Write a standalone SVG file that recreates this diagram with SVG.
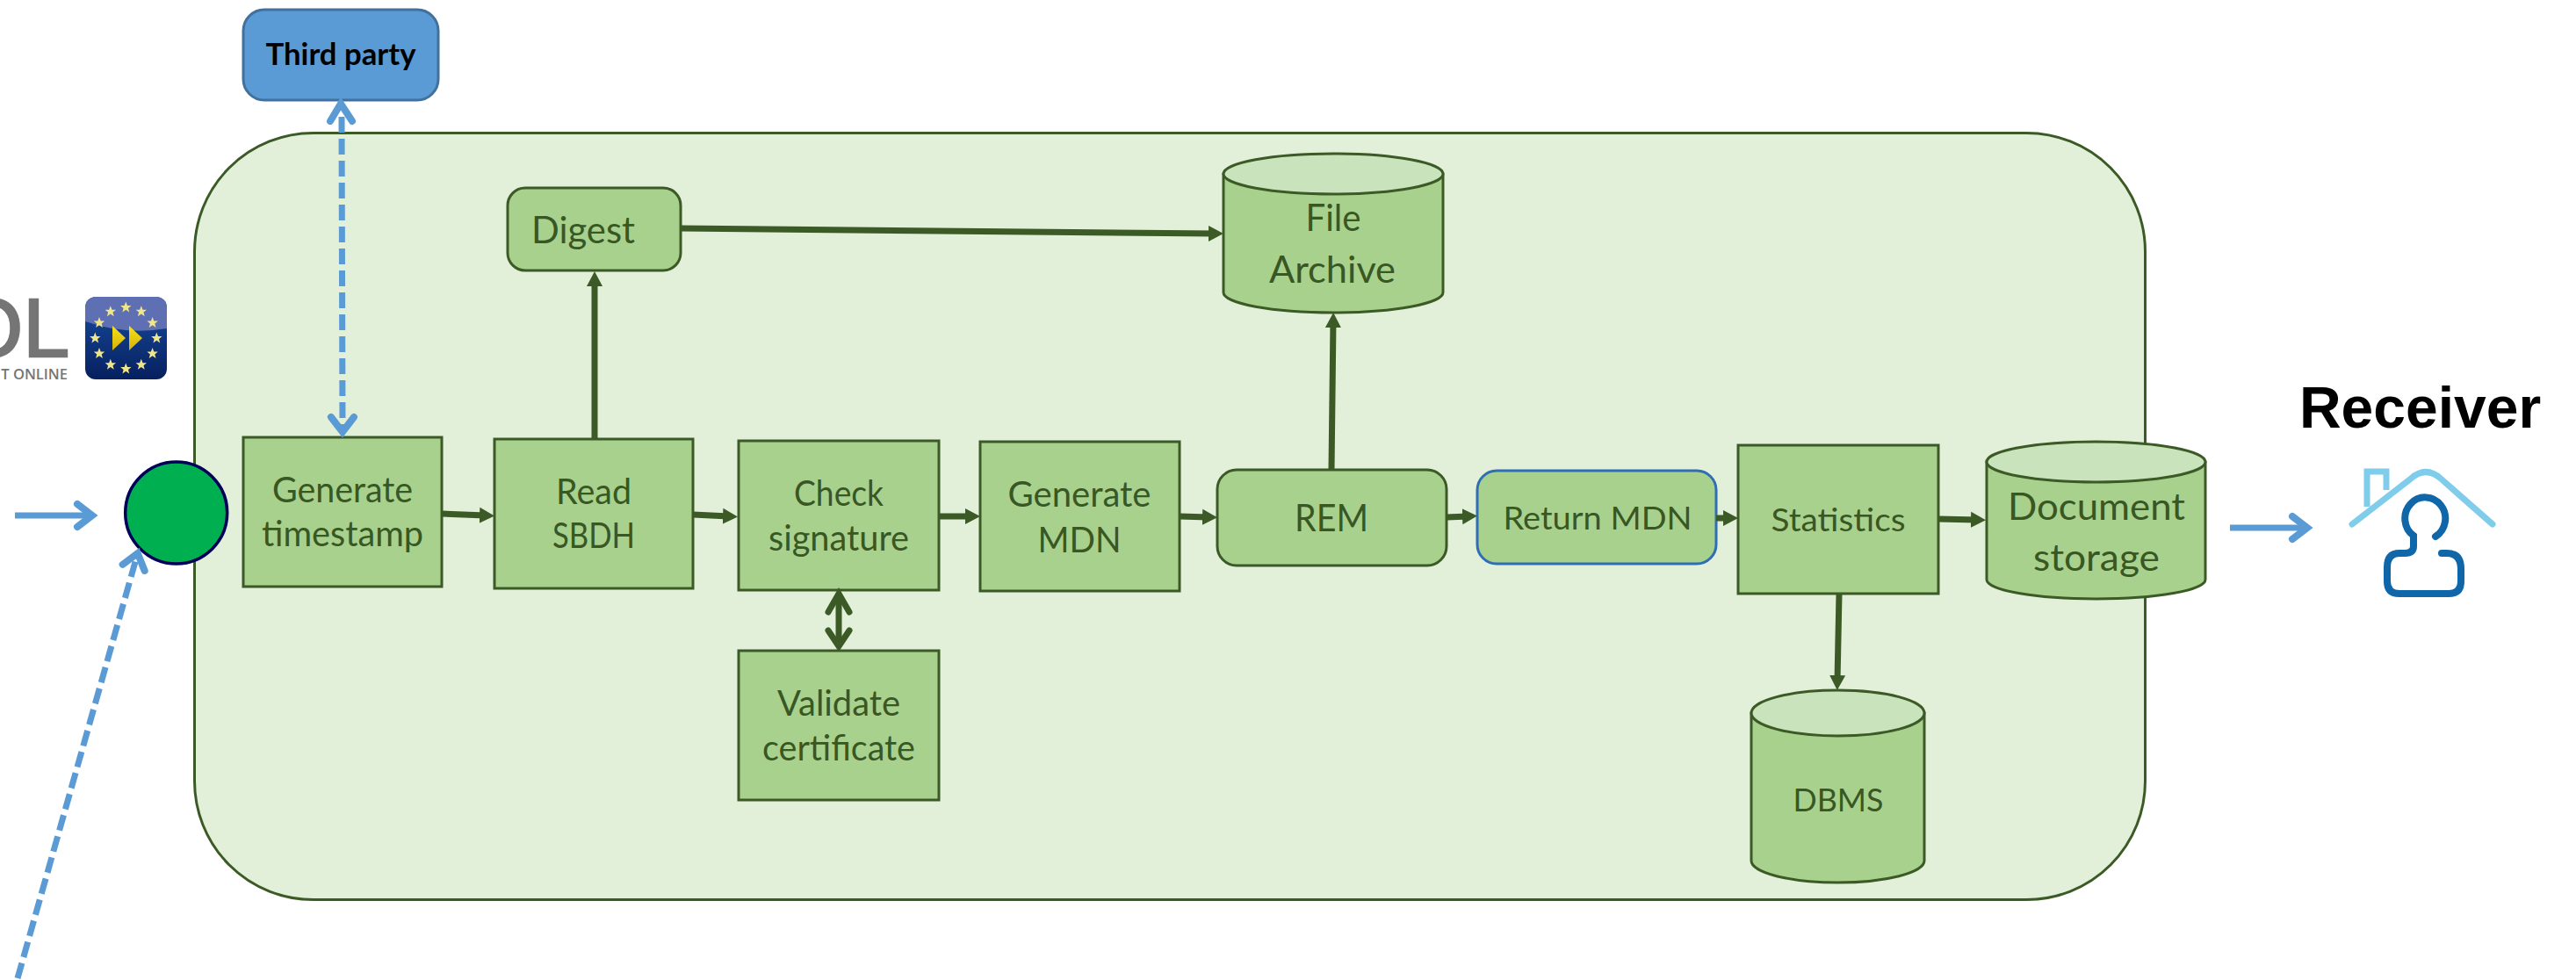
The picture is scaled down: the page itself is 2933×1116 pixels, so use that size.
<svg xmlns="http://www.w3.org/2000/svg" width="2933" height="1116" viewBox="0 0 2933 1116">
<style>
text{font-family:Lato,"Liberation Sans",sans-serif;text-anchor:middle}
.t{font-size:40px;fill:#385723}
.l{font-size:43px;fill:#385723}
.s{font-size:37px;fill:#385723}
.b{fill:#a9d18e;stroke:#3b5a26;stroke-width:3}
.top{fill:#c9e3bd;stroke:#3b5a26;stroke-width:3}
.a{stroke:#3b5a26;stroke-width:7;fill:none;marker-end:url(#tri)}
.u{stroke:#5b9bd5;stroke-width:7;fill:none;marker-end:url(#open)}
.d{stroke-dasharray:18 7}
</style>
<defs>
<marker id="tri" markerUnits="userSpaceOnUse" markerWidth="30" markerHeight="30" refX="7" refY="15" orient="auto"><path d="M0,6 L17,15 L0,24 z" fill="#3b5a26"/></marker>
<marker id="open" markerUnits="userSpaceOnUse" markerWidth="40" markerHeight="40" refX="24" refY="20" orient="auto"><path d="M8,7 L25,20 L8,33" fill="none" stroke="#5b9bd5" stroke-width="8" stroke-linecap="round"/></marker>
<linearGradient id="blue" x1="0" y1="0" x2="0" y2="1"><stop offset="0" stop-color="#1a4da0"/><stop offset="1" stop-color="#06205f"/></linearGradient>
<linearGradient id="yel" x1="0" y1="0" x2="0" y2="1"><stop offset="0" stop-color="#f7e21a"/><stop offset="1" stop-color="#d4b20a"/></linearGradient>
<path id="star" d="M0,-6.500 L1.700,-2 L6.200,-2 L2.700,0.900 L3.900,5.500 L0,2.800 L-3.900,5.500 L-2.700,0.900 L-6.200,-2 L-1.700,-2 z" fill="#efe58c"/>
</defs>

<g id="logo">
<text x="79" y="406" stroke="#757575" stroke-width="2.500" style="font-family:'Liberation Sans',sans-serif;font-size:95px;text-anchor:end" fill="#757575">OL</text>
<text x="77" y="432" style="font-family:'Open Sans',sans-serif;font-size:16.500px;text-anchor:end;font-weight:600" fill="#757575">T ONLINE</text>
<rect x="97" y="338" width="93" height="94" rx="12" fill="url(#blue)"/>
<path d="M97,350 a12,12 0 0 1 12,-12 h69 a12,12 0 0 1 12,12 v24 Q143,382 97,366 z" fill="#5e70b3"/>
<path d="M128,371 L143,385 L128,399 z M147,371 L162,385 L147,399 z" fill="url(#yel)"/>
<use href="#star" x="143.300" y="350"/><use href="#star" x="160.800" y="354.700"/><use href="#star" x="173.600" y="367.500"/><use href="#star" x="178.300" y="385"/><use href="#star" x="173.600" y="402.500"/><use href="#star" x="160.800" y="415.300"/><use href="#star" x="143.300" y="420"/><use href="#star" x="125.800" y="415.300"/><use href="#star" x="113" y="402.500"/><use href="#star" x="108.300" y="385"/><use href="#star" x="113" y="367.500"/><use href="#star" x="125.800" y="354.700"/>
</g>

<g id="container"><rect x="221.500" y="151.500" width="2221" height="873" rx="135" fill="#e2efd9" stroke="#3b5a26" stroke-width="3"/></g>

<g id="start"><circle cx="200.700" cy="584" r="58" fill="#00b050" stroke="#00005a" stroke-width="3.500"/></g>

<g id="third-party"><rect x="277" y="11" width="222" height="103" rx="24" fill="#5b9bd5" stroke="#41719c" stroke-width="3"/><text x="388" y="74" textLength="171" lengthAdjust="spacingAndGlyphs" style="font-size:34px;font-weight:700" fill="#000">Third party</text></g>

<g id="generate-timestamp"><rect class="b" x="277" y="498" width="226" height="170"/><text class="t" x="390" y="572" textLength="160" lengthAdjust="spacingAndGlyphs">Generate</text><text class="t" x="390" y="622" textLength="184" lengthAdjust="spacingAndGlyphs">timestamp</text></g>
<g id="read-sbdh"><rect class="b" x="563" y="500" width="226" height="170"/><text class="t" x="676" y="574" textLength="86" lengthAdjust="spacingAndGlyphs">Read</text><text class="t" x="676" y="624" textLength="94" lengthAdjust="spacingAndGlyphs">SBDH</text></g>
<g id="digest"><rect class="b" x="578" y="214" width="197" height="94" rx="20"/><text class="l" x="664" y="277" textLength="118" lengthAdjust="spacingAndGlyphs">Digest</text></g>
<g id="check-signature"><rect class="b" x="841" y="502" width="228" height="170"/><text class="t" x="955" y="576" textLength="102" lengthAdjust="spacingAndGlyphs">Check</text><text class="t" x="955" y="627" textLength="160" lengthAdjust="spacingAndGlyphs">signature</text></g>
<g id="validate-certificate"><rect class="b" x="841" y="741" width="228" height="170"/><text class="t" x="955" y="815" textLength="140" lengthAdjust="spacingAndGlyphs">Validate</text><text class="t" x="955" y="866" textLength="174" lengthAdjust="spacingAndGlyphs">certificate</text></g>
<g id="generate-mdn"><rect class="b" x="1116" y="503" width="227" height="170"/><text class="t" x="1229" y="577" textLength="163" lengthAdjust="spacingAndGlyphs">Generate</text><text class="t" x="1229" y="629" textLength="95" lengthAdjust="spacingAndGlyphs">MDN</text></g>
<g id="rem"><rect class="b" x="1386" y="535" width="261" height="109" rx="22"/><text class="l" x="1516" y="605" textLength="84" lengthAdjust="spacingAndGlyphs">REM</text></g>
<g id="return-mdn"><rect x="1682" y="536" width="272" height="106" rx="22" fill="#a9d18e" stroke="#2f6eb5" stroke-width="3"/><text class="s" x="1819" y="603" textLength="215" lengthAdjust="spacingAndGlyphs">Return MDN</text></g>
<g id="statistics"><rect class="b" x="1979" y="507" width="228" height="169"/><text class="s" x="2093" y="605" textLength="153" lengthAdjust="spacingAndGlyphs">Statistics</text></g>

<g id="file-archive"><path class="b" d="M1393,198 V333 A125,23 0 0 0 1643,333 V198 z"/><ellipse class="top" cx="1518" cy="198" rx="125" ry="23"/><text class="l" x="1518" y="263" textLength="63" lengthAdjust="spacingAndGlyphs">File</text><text class="l" x="1517" y="322" textLength="144" lengthAdjust="spacingAndGlyphs">Archive</text></g>
<g id="document-storage"><path class="b" d="M2262,526 V660 A124.500,22 0 0 0 2511,660 V526 z"/><ellipse class="top" cx="2386.500" cy="526" rx="124.500" ry="23"/><text class="l" x="2387" y="592" textLength="202" lengthAdjust="spacingAndGlyphs">Document</text><text class="l" x="2387" y="650" textLength="144" lengthAdjust="spacingAndGlyphs">storage</text></g>
<g id="dbms"><path class="b" d="M1994,812 V980 A98.500,25 0 0 0 2191,980 V812 z"/><ellipse class="top" cx="2092.500" cy="812" rx="98.500" ry="26"/><text class="s" x="2093" y="924" textLength="103" lengthAdjust="spacingAndGlyphs">DBMS</text></g>

<g id="connectors">
<line class="a" x1="503" y1="585" x2="553" y2="587"/>
<line class="a" x1="789" y1="586" x2="830" y2="588"/>
<line class="a" x1="1069" y1="588" x2="1106" y2="588"/>
<line class="a" x1="1343" y1="588" x2="1376" y2="589"/>
<line class="a" x1="1647" y1="589" x2="1672" y2="588"/>
<line class="a" x1="1954" y1="590" x2="1969" y2="590"/>
<line class="a" x1="2207" y1="591" x2="2251" y2="592"/>
<line class="a" x1="2094" y1="677" x2="2092" y2="776"/>
<line class="a" x1="677" y1="499" x2="677" y2="319"/>
<line class="a" x1="775" y1="260" x2="1383" y2="266"/>
<line class="a" x1="1516" y1="535" x2="1518" y2="366"/>
<line x1="955" y1="676" x2="955" y2="736" stroke="#3b5a26" stroke-width="7"/>
<path d="M943,697 L955,676 L967,697 M943,718 L955,736 L967,718" fill="none" stroke="#3b5a26" stroke-width="7" stroke-linecap="round"/>
<line class="u" x1="17" y1="587" x2="104" y2="587"/>
<line class="u" x1="2539" y1="601" x2="2626" y2="601"/>
<line class="u d" x1="20" y1="1114" x2="156.500" y2="631"/>
<line class="u d" x1="389" y1="133" x2="390" y2="491"/>
<path d="M376,138 L388,118 L401,138" fill="none" stroke="#5b9bd5" stroke-width="8" stroke-linecap="round"/>
</g>

<g id="receiver">
<text x="2755.500" y="487" style="font-family:'Liberation Sans',Arial,sans-serif;font-size:66px;font-weight:700" fill="#000">Receiver</text>
<path d="M2678,597 L2745,545 Q2762,530 2779,545 L2838,597" fill="none" stroke="#7fcdea" stroke-width="7" stroke-linecap="round"/>
<path d="M2695,577 V537 H2717 V558" fill="none" stroke="#7fcdea" stroke-width="7"/>
<path d="M2773,611 A23,24 0 1 0 2748,610 V622 Q2748,630 2738,630 H2732 Q2718,630 2718,646 V662 Q2718,676 2732,676 H2788 Q2802,676 2802,662 V648 Q2802,630 2786,630 H2780" fill="none" stroke="#0f66a9" stroke-width="8" stroke-linecap="round"/>
</g>
</svg>
